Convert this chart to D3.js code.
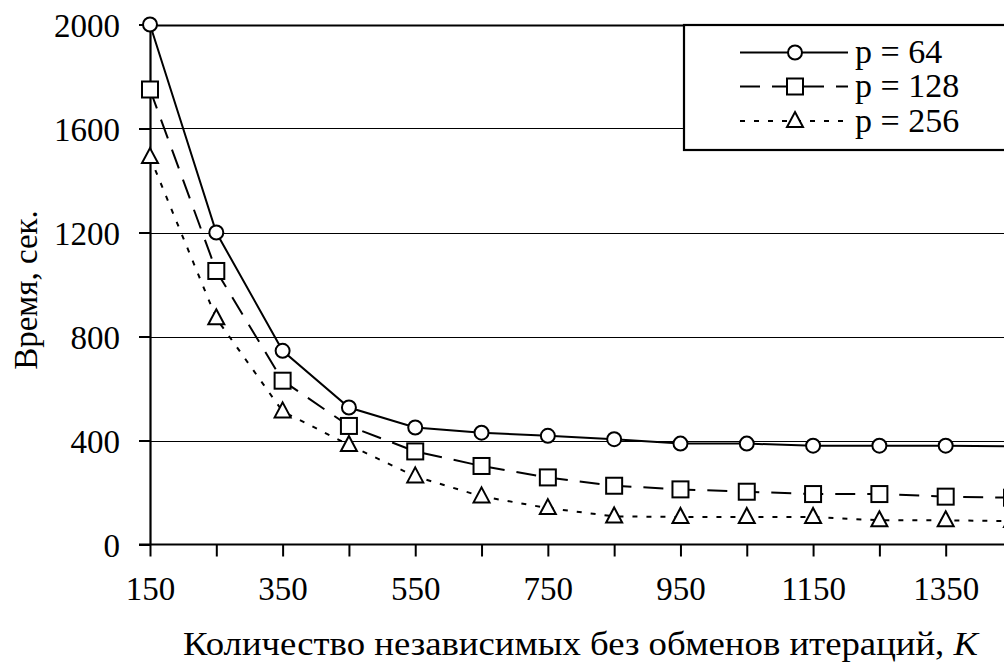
<!DOCTYPE html>
<meta charset="utf-8">
<script src="https://d3js.org/d3.v7.min.js"></script>
<style>
    body { margin: 0; background: #fff; }
    text { font-family: "Liberation Serif", "Times New Roman", serif; fill: #000; }
</style>
<div id="my_chart"></div>
<script>
    // data
    var kValues = [150, 250, 350, 450, 550, 650, 750, 850, 950, 1050, 1150, 1250, 1350, 1450];
    var p64 = [2000, 1200, 745, 527, 450, 430, 418, 405, 388, 388, 380, 380, 380, 378];
    var p128 = [1750, 1052, 630, 456, 358, 302, 258, 226, 212, 203, 194, 194, 184, 180];
    var p256 = [1490, 870, 512, 383, 262, 185, 140, 108, 106, 106, 106, 93, 93, 90];
    var seriesNames = ["p = 64", "p = 128", "p = 256"];
    var yTicks = [0, 400, 800, 1200, 1600, 2000];
    var xLabelTicks = [150, 350, 550, 750, 950, 1150, 1350];

    var W = 1004, H = 664;
    var svg = d3.select("#my_chart").append("svg")
        .attr("width", W)
        .attr("height", H);

    var x = d3.scaleLinear().domain([150, 1450]).range([150, 1012]);
    var y = d3.scaleLinear().domain([0, 2000]).range([544.5, 24.5]);

    // horizontal grid lines
    svg.append("g").selectAll("line")
        .data(yTicks.filter(function(d) { return d > 0; }))
        .join("line")
        .attr("x1", 150).attr("x2", W)
        .attr("y1", function(d) { return Math.round(y(d)) + 0.5; })
        .attr("y2", function(d) { return Math.round(y(d)) + 0.5; })
        .attr("stroke", "#000")
        .attr("stroke-width", function(d) { return d == 2000 ? 2 : 1; });

    // Y axis
    var yAxis = svg.append("g")
        .attr("transform", "translate(150,0)")
        .call(d3.axisLeft(y).tickValues(yTicks).tickFormat(d3.format("d"))
            .tickSize(11).tickSizeOuter(0).tickPadding(19));
    yAxis.select(".domain").attr("stroke-width", 2.2);
    yAxis.selectAll(".tick line").attr("stroke-width", 2);
    yAxis.selectAll(".tick text").style("font-size", "33px").attr("dy", "0.36em");

    // X axis
    var xAxis = svg.append("g")
        .attr("transform", "translate(0," + y(0) + ")")
        .call(d3.axisBottom(x).tickValues(kValues).tickSize(12).tickSizeOuter(0).tickPadding(20)
            .tickFormat(function(d) { return xLabelTicks.indexOf(d) >= 0 ? d : ""; }));
    xAxis.select(".domain").attr("stroke-width", 2.2).attr("d", "M139,0H" + W);
    xAxis.selectAll(".tick line").attr("stroke-width", 2);
    xAxis.selectAll(".tick text").style("font-size", "33px").attr("dy", "0.71em");

    // axis titles
    svg.append("text")
        .attr("transform", "translate(37,290) rotate(-90)")
        .attr("text-anchor", "middle")
        .style("font-size", "33px")
        .text("Время, сек.");

    var xt = svg.append("text")
        .attr("x", 183)
        .attr("y", 655)
        .attr("textLength", 795)
        .attr("lengthAdjust", "spacingAndGlyphs")
        .style("font-size", "33px");
    xt.append("tspan").text("Количество независимых без обменов итераций, ");
    xt.append("tspan").style("font-style", "italic").text("K");

    // series
    var styles = [
        { values: p64, dash: null, shape: "circle" },
        { values: p128, dash: "20,12", shape: "square" },
        { values: p256, dash: "5,9", shape: "triangle" }
    ];

    function drawMarker(g, shape, cx, cy) {
        if (shape == "circle") {
            g.append("circle").attr("cx", cx).attr("cy", cy).attr("r", 7)
                .attr("fill", "#fff").attr("stroke", "#000").attr("stroke-width", 2);
        } else if (shape == "square") {
            g.append("rect").attr("x", cx - 8).attr("y", cy - 8).attr("width", 16).attr("height", 16)
                .attr("fill", "#fff").attr("stroke", "#000").attr("stroke-width", 2);
        } else {
            g.append("path")
                .attr("d", "M" + cx + "," + (cy - 9) + "L" + (cx + 8) + "," + (cy + 6) + "L" + (cx - 8) + "," + (cy + 6) + "Z")
                .attr("fill", "#fff").attr("stroke", "#000").attr("stroke-width", 2);
        }
    }

    var line = d3.line()
        .x(function(d, i) { return x(kValues[i]); })
        .y(function(d) { return y(d); });

    styles.forEach(function(s) {
        svg.append("path")
            .datum(s.values)
            .attr("fill", "none")
            .attr("stroke", "#000")
            .attr("stroke-width", 2)
            .attr("stroke-dasharray", s.dash)
            .attr("d", line);
    });
    styles.forEach(function(s) {
        var g = svg.append("g");
        s.values.forEach(function(v, i) {
            drawMarker(g, s.shape, x(kValues[i]), y(v));
        });
    });

    // legend
    var legend = svg.append("g");
    legend.append("rect")
        .attr("x", 684).attr("y", 25)
        .attr("width", 340).attr("height", 125)
        .attr("fill", "#fff").attr("stroke", "#000").attr("stroke-width", 2.2);
    var rowY = [52.5, 86.5, 121];
    styles.forEach(function(s, i) {
        legend.append("line")
            .attr("x1", 740).attr("x2", 848)
            .attr("y1", rowY[i]).attr("y2", rowY[i])
            .attr("stroke", "#000").attr("stroke-width", 2)
            .attr("stroke-dasharray", s.dash);
        drawMarker(legend, s.shape, 795, rowY[i]);
        legend.append("text")
            .attr("x", 855)
            .attr("y", rowY[i] + 10.5)
            .style("font-size", "34px")
            .text(seriesNames[i]);
    });
</script>
